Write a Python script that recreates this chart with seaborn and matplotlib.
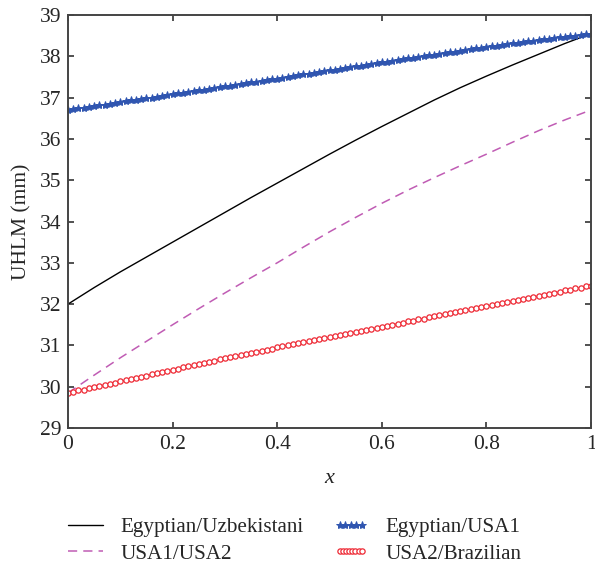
import numpy as np
import pandas as pd
import matplotlib
matplotlib.use('Agg')
import matplotlib.pyplot as plt
from matplotlib.legend_handler import HandlerLine2D
import seaborn as sns

# values
x_coarse = np.linspace(0, 1, 21)
x_fine = np.linspace(0, 1, 101)

egy_uzb = [32.00, 32.40, 32.78, 33.14, 33.50, 33.86, 34.22, 34.58, 34.93, 35.28, 35.63,
           35.97, 36.30, 36.62, 36.94, 37.24, 37.52, 37.79, 38.05, 38.31, 38.55]

usa1_usa2 = [29.85, 30.28, 30.70, 31.10, 31.50, 31.89, 32.27, 32.64, 33.00, 33.38, 33.75,
             34.10, 34.44, 34.76, 35.06, 35.35, 35.63, 35.92, 36.20, 36.46, 36.70]

egy_usa1 = [36.70, 36.72, 36.74, 36.76, 36.78, 36.80, 36.81, 36.83, 36.85, 36.87,
            36.89, 36.91, 36.93, 36.95, 36.97, 36.99, 37.00, 37.02, 37.04, 37.06,
            37.08, 37.10, 37.12, 37.14, 37.16, 37.18, 37.19, 37.21, 37.23, 37.25,
            37.27, 37.29, 37.31, 37.33, 37.35, 37.37, 37.38, 37.40, 37.42, 37.44,
            37.46, 37.48, 37.50, 37.52, 37.54, 37.56, 37.58, 37.60, 37.62, 37.64,
            37.66, 37.68, 37.70, 37.72, 37.74, 37.76, 37.77, 37.79, 37.81, 37.83,
            37.85, 37.87, 37.89, 37.91, 37.93, 37.95, 37.96, 37.98, 38.00, 38.02,
            38.04, 38.06, 38.08, 38.10, 38.11, 38.13, 38.15, 38.17, 38.19, 38.20,
            38.22, 38.24, 38.26, 38.27, 38.29, 38.31, 38.32, 38.34, 38.36, 38.37,
            38.39, 38.41, 38.42, 38.44, 38.46, 38.47, 38.49, 38.50, 38.52, 38.53,
            38.55]

usa2_bra = [29.85, 29.88, 29.91, 29.93, 29.96, 29.99, 30.02, 30.05, 30.07, 30.10,
            30.13, 30.16, 30.19, 30.21, 30.24, 30.27, 30.30, 30.33, 30.35, 30.38,
            30.41, 30.44, 30.47, 30.49, 30.52, 30.55, 30.58, 30.61, 30.63, 30.66,
            30.69, 30.72, 30.74, 30.77, 30.79, 30.82, 30.85, 30.87, 30.90, 30.92,
            30.95, 30.98, 31.00, 31.03, 31.05, 31.08, 31.10, 31.13, 31.15, 31.18,
            31.20, 31.23, 31.25, 31.28, 31.30, 31.33, 31.35, 31.38, 31.40, 31.43,
            31.45, 31.48, 31.50, 31.53, 31.55, 31.58, 31.60, 31.63, 31.65, 31.68,
            31.70, 31.73, 31.75, 31.78, 31.80, 31.83, 31.85, 31.88, 31.90, 31.93,
            31.95, 31.98, 32.00, 32.03, 32.05, 32.08, 32.10, 32.13, 32.15, 32.18,
            32.20, 32.23, 32.25, 32.28, 32.30, 32.33, 32.35, 32.38, 32.40, 32.43,
            32.45]

labels = ['Egyptian/Uzbekistani', 'USA1/USA2', 'Egyptian/USA1', 'USA2/Brazilian']

sns.set_style('ticks')
plt.rcParams['font.family'] = ['Liberation Serif', 'DejaVu Serif']
plt.rcParams['xtick.direction'] = 'in'
plt.rcParams['ytick.direction'] = 'in'
plt.rcParams['mathtext.fontset'] = 'custom'
plt.rcParams['mathtext.it'] = 'Liberation Serif:italic'

fig = plt.figure(figsize=(5.95, 5.66), dpi=100)
ax = fig.add_axes([0.1143, 0.2438, 0.879, 0.7297])

sns.lineplot(x=x_coarse, y=egy_uzb, ax=ax, color='black', linewidth=1.0, label=labels[0])
sns.lineplot(x=x_coarse, y=usa1_usa2, ax=ax, color='#c05cb4', linewidth=1.1, label=labels[1])
ax.lines[-1].set_dashes([6, 4])
sns.lineplot(x=x_fine, y=egy_usa1, ax=ax, color='#2f55b0', linewidth=1.0, marker='*',
             markersize=6, markeredgewidth=0.7, markeredgecolor='#2f55b0', label=labels[2])
sns.lineplot(x=x_fine, y=usa2_bra, ax=ax, color='#ee2a35', linewidth=0.6, marker='o',
             markersize=3.8, markerfacecolor='white', markeredgewidth=0.9,
             markeredgecolor='#ee2a35', label=labels[3])

ax.set_xlim(0, 1)
ax.set_ylim(29, 39)
ax.set_xticks([0, 0.2, 0.4, 0.6, 0.8, 1])
ax.set_xticklabels(['0', '0.2', '0.4', '0.6', '0.8', '1'])
ax.set_yticks(range(29, 40))
ax.tick_params(labelsize=15.5, length=4, width=1.2, color='#333333',
               top=True, right=True, pad=5)
for s in ax.spines.values():
    s.set_visible(True)
    s.set_linewidth(1.4)
    s.set_color('#444444')

ax.set_xlabel('$x$', fontsize=16, labelpad=11)
ax.set_ylabel('UHLM (mm)', fontsize=15.5, labelpad=6)

handles, labs = ax.get_legend_handles_labels()
ax.get_legend().remove()
hmap = {handles[2]: HandlerLine2D(numpoints=5), handles[3]: HandlerLine2D(numpoints=8)}
fig.legend(handles, labs, loc='upper left', bbox_to_anchor=(0.083, 0.1195), ncol=2,
           frameon=False, fontsize=15.25, handlelength=1.65, columnspacing=1.4,
           labelspacing=0.32, handletextpad=0.8, handler_map=hmap)

fig.savefig('out.png', dpi=100)
